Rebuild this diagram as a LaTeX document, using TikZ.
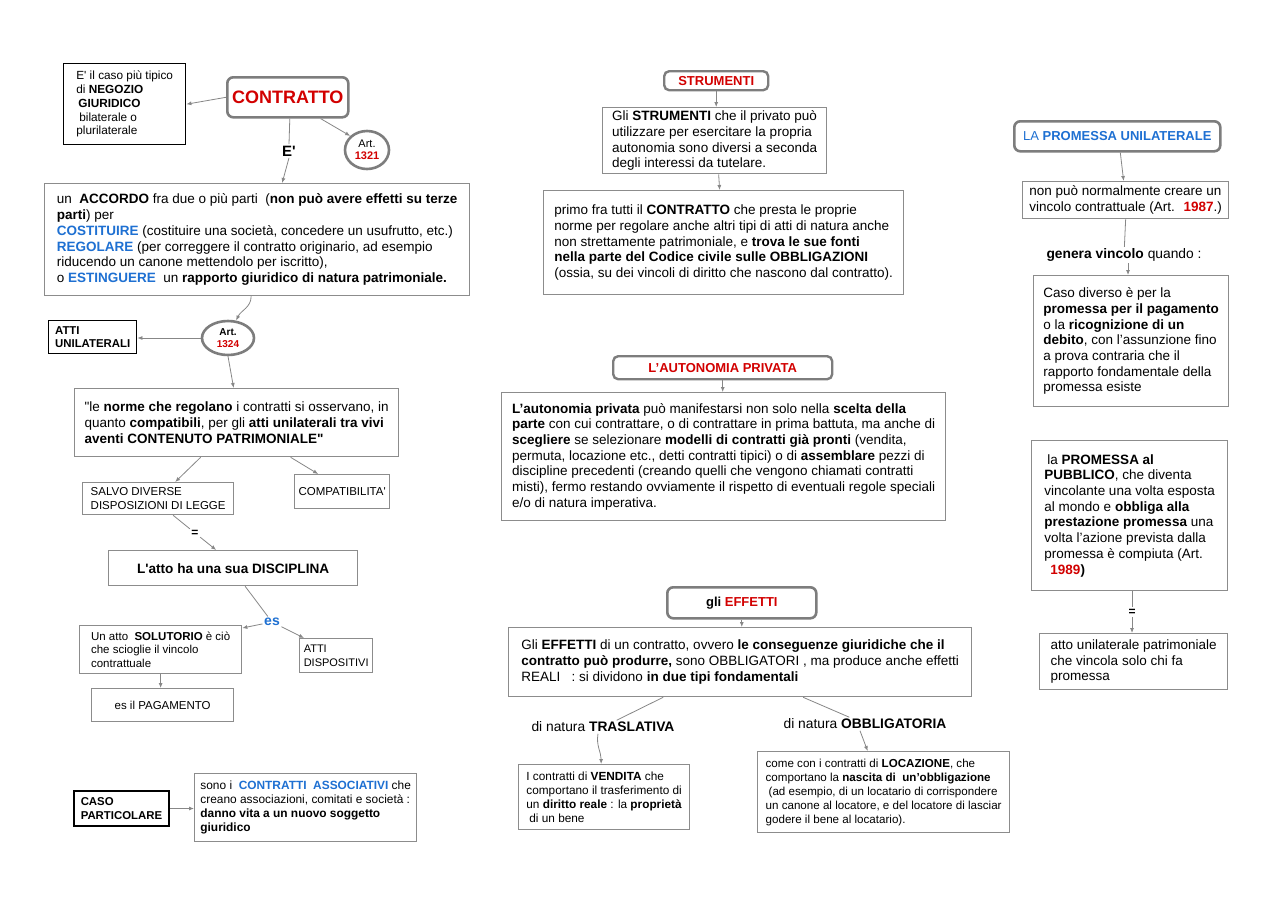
\documentclass[tikz,border=0pt]{standalone}
\usepackage{fontspec}
\setmainfont{Liberation Sans}
\usepackage{tikz}
\definecolor{mapred}{RGB}{210,0,0}
\definecolor{mapblue}{RGB}{30,112,210}
\definecolor{mapgray}{RGB}{125,125,125}
\definecolor{cardgray}{RGB}{140,140,140}
\definecolor{linkgray}{RGB}{135,135,135}
\usetikzlibrary{positioning}
\usetikzlibrary{shapes.geometric}
\usetikzlibrary{arrows.meta}
\usetikzlibrary{calc}
\tikzset{concept/.style={rectangle,draw=mapgray,line width=2.6pt,rounded corners=6pt,anchor=north west,inner sep=0pt,align=center}}
\tikzset{card/.style={rectangle,draw=cardgray,line width=1.3pt,anchor=north west,inner sep=0pt,align=left,font=\fontsize{13.5}{15.7}\selectfont}}
\tikzset{smallcard/.style={card,font=\fontsize{11.5}{13.8}\selectfont}}
\tikzset{blackcard/.style={smallcard,draw=black,line width=1.4pt}}
\tikzset{artnode/.style={ellipse,draw=mapgray,line width=2.6pt,inner sep=0pt,align=center}}
\tikzset{tag/.style={inner sep=1.5pt,font=\fontsize{13.8}{15.7}\selectfont}}
\tikzset{linkline/.style={draw=linkgray,line width=0.8pt}}
\tikzset{link/.style={linkline,-{Latex[length=5pt,width=4pt]}}}

\begin{document}
\begin{tikzpicture}[x=1pt,y=-1pt]
  \fill[white] (0,0) rectangle (1280,905);
  \useasboundingbox (0,0) rectangle (1280,905);

  % Contratto
  \node[concept,minimum width=121pt,minimum height=40pt,font=\fontsize{18}{20}\selectfont\bfseries,text=mapred] (contratto) at (226,76) {CONTRATTO};
  \node[blackcard,minimum width=122pt,minimum height=81pt,font=\fontsize{11.8}{13.8}\selectfont] (negozio) at (63,63) {E\textquotesingle{} il caso più tipico\\di \textbf{NEGOZIO}\\\hspace{2pt}\textbf{GIURIDICO}\\\hspace{3pt}bilaterale o\\plurilaterale};
  \node[artnode,minimum width=44pt,minimum height=38pt,font=\fontsize{11}{12.5}\selectfont] (art1321) at (367,150) {Art.\\\textcolor{mapred}{\textbf{1321}}};
  \node[tag,font=\fontsize{15}{17}\selectfont\bfseries] (e) at (289,151) {E\textquotesingle};
  \node[card,minimum width=425pt,minimum height=112pt] (accordo) at (44,183) {un \ \textbf{ACCORDO} fra due o più parti \ (\textbf{non può avere effetti su terze}\\\textbf{parti}) per\\\textcolor{mapblue}{\textbf{COSTITUIRE}} (costituire una società, concedere un usufrutto, etc.)\\\textcolor{mapblue}{\textbf{REGOLARE}} (per correggere il contratto originario, ad esempio\\riducendo un canone mettendolo per iscritto),\\o \textcolor{mapblue}{\textbf{ESTINGUERE}} \ un \textbf{rapporto giuridico di natura patrimoniale.}};

  % Atti unilaterali
  \node[blackcard,minimum width=88pt,minimum height=33pt,font=\fontsize{11.4}{13}\selectfont\bfseries] (attiun) at (48,320) {ATTI\\UNILATERALI};
  \node[artnode,minimum width=52pt,minimum height=34pt,font=\fontsize{10}{11.5}\selectfont\bfseries] (art1324) at (228,338) {Art.\\\textcolor{mapred}{1324}};
  \node[card,minimum width=324pt,minimum height=68pt] (norme) at (74,388) {\textquotedbl le \textbf{norme che regolano} i contratti si osservano, in\\quanto \textbf{compatibili}, per gli \textbf{atti unilaterali tra vivi}\\\textbf{aventi CONTENUTO PATRIMONIALE\textquotedbl}};
  \node[smallcard,minimum width=151pt,minimum height=32pt] (salvo) at (82,482) {SALVO DIVERSE\\DISPOSIZIONI DI LEGGE};
  \node[smallcard,minimum width=95pt,minimum height=34pt] (compat) at (294,474) {COMPATIBILITA\textquotesingle};
  \node[tag,font=\fontsize{12}{14}\selectfont\bfseries] (eq1) at (195,533) {=};
  \node[card,minimum width=249pt,minimum height=35pt,font=\fontsize{13.6}{16}\selectfont\bfseries] (discip) at (108,550) {L\textquotesingle atto ha una sua DISCIPLINA};
  \node[tag,font=\fontsize{14}{16}\selectfont\bfseries,text=mapblue] (es) at (272,622) {es};
  \node[smallcard,minimum width=162pt,minimum height=48pt] (solut) at (79,625) {Un atto \ \textbf{SOLUTORIO} è ciò\\che scioglie il vincolo\\contrattuale};
  \node[smallcard,minimum width=73pt,minimum height=34pt,font=\fontsize{11}{13.5}\selectfont] (dispos) at (299,638) {ATTI\\DISPOSITIVI};
  \node[smallcard,minimum width=142pt,minimum height=33pt] (pagam) at (91,688) {es il PAGAMENTO};

  % Caso particolare
  \node[blackcard,line width=2pt,minimum width=95pt,minimum height=35pt,font=\fontsize{11.4}{13.5}\selectfont\bfseries] (caso) at (73,790) {CASO\\PARTICOLARE};
  \node[smallcard,minimum width=222pt,minimum height=68pt,font=\fontsize{11.9}{14}\selectfont] (assoc) at (194,773) {sono i \ \textcolor{mapblue}{\textbf{CONTRATTI \ ASSOCIATIVI}} che\\creano associazioni, comitati e società :\\\textbf{danno vita a un nuovo soggetto}\\\textbf{giuridico}};

  % Strumenti
  \node[concept,minimum width=104pt,minimum height=19pt,line width=2.4pt,rounded corners=5pt,font=\fontsize{13}{15}\selectfont\bfseries,text=mapred] (strum) at (663,70) {STRUMENTI};
  \node[card,minimum width=224pt,minimum height=66pt] (glistrum) at (602,107) {Gli \textbf{STRUMENTI} che il privato può\\utilizzare per esercitare la propria\\autonomia sono diversi a seconda\\degli interessi da tutelare.};
  \node[card,minimum width=360pt,minimum height=104pt] (primo) at (543,190) {primo fra tutti il \textbf{CONTRATTO} che presta le proprie\\norme per regolare anche altri tipi di atti di natura anche\\non strettamente patrimoniale, e \textbf{trova le sue fonti}\\\textbf{nella parte del Codice civile sulle OBBLIGAZIONI}\\(ossia, su dei vincoli di diritto che nascono dal contratto).};

  % Autonomia privata
  \node[concept,minimum width=219pt,minimum height=23pt,line width=2.4pt,rounded corners=5pt,font=\fontsize{13}{15}\selectfont\bfseries,text=mapred] (autontitle) at (612,355) {L’AUTONOMIA PRIVATA};
  \node[card,minimum width=444pt,minimum height=128pt] (auton) at (501,392) {\textbf{L’autonomia privata} può manifestarsi non solo nella \textbf{scelta della}\\\textbf{parte} con cui contrattare, o di contrattare in prima battuta, ma anche di\\\textbf{scegliere} se selezionare \textbf{modelli di contratti già pronti} (vendita,\\permuta, locazione etc., detti contratti tipici) o di \textbf{assemblare} pezzi di\\discipline precedenti (creando quelli che vengono chiamati contratti\\misti), fermo restando ovviamente il rispetto di eventuali regole speciali\\e/o di natura imperativa.};

  % Effetti
  \node[concept,minimum width=149pt,minimum height=31pt,font=\fontsize{13}{15}\selectfont\bfseries] (effetti) at (666,586) {gli \textcolor{mapred}{EFFETTI}};
  \node[card,minimum width=463pt,minimum height=69pt] (effbox) at (508,627) {Gli \textbf{EFFETTI} di un contratto, ovvero \textbf{le conseguenze giuridiche che il}\\\textbf{contratto può produrre,} sono OBBLIGATORI , ma produce anche effetti\\REALI \ \ : si dividono \textbf{in due tipi fondamentali}};
  \node[tag] (trasl) at (603,727) {di natura \textbf{TRASLATIVA}};
  \node[tag] (obblig) at (865,724) {di natura \textbf{OBBLIGATORIA}};
  \node[smallcard,minimum width=171pt,minimum height=65pt,font=\fontsize{11.8}{14}\selectfont] (vendita) at (518,764) {I contratti di \textbf{VENDITA} che\\comportano il trasferimento di\\un \textbf{diritto reale} : la \textbf{proprietà}\\\hspace{3pt}di un bene};
  \node[smallcard,minimum width=252pt,minimum height=81pt,font=\fontsize{11.6}{14}\selectfont] (locaz) at (757,751) {come con i contratti di \textbf{LOCAZIONE}, che\\comportano la \textbf{nascita di \ un’obbligazione}\\\hspace{3pt}(ad esempio, di un locatario di corrispondere\\un canone al locatore, e del locatore di lasciar\\godere il bene al locatario).};

  % Promessa unilaterale
  \node[concept,minimum width=206pt,minimum height=30pt,font=\fontsize{13}{15}\selectfont,text=mapblue] (promtitle) at (1013,120) {LA \textbf{PROMESSA UNILATERALE}};
  \node[card,minimum width=206pt,minimum height=37pt] (nonpuo) at (1022,181) {non può normalmente creare un\\vincolo contrattuale (Art. \ \textcolor{mapred}{\textbf{1987}}.)};
  \node[tag] (genera) at (1124,255) {\textbf{genera vincolo} quando :};
  \node[card,minimum width=195pt,minimum height=131pt] (casodiv) at (1033,275) {Caso diverso è per la\\\textbf{promessa per il pagamento}\\o la \textbf{ricognizione di un}\\\textbf{debito}, con l’assunzione fino\\a prova contraria che il\\rapporto fondamentale della\\promessa esiste};
  \node[card,minimum width=196pt,minimum height=150pt] (pubblico) at (1031,440) {\hspace{3pt}la \textbf{PROMESSA al}\\\textbf{PUBBLICO}, che diventa\\vincolante una volta esposta\\al mondo e \textbf{obbliga alla}\\\textbf{prestazione promessa} una\\volta l’azione prevista dalla\\promessa è compiuta (Art.\\\hspace{6pt}\textcolor{mapred}{\textbf{1989}}\textbf{)}};
  \node[tag,font=\fontsize{12}{14}\selectfont\bfseries] (eq2) at (1132,612) {=};
  \node[card,minimum width=188pt,minimum height=56pt] (atto) at (1039,633) {atto unilaterale patrimoniale\\che vincola solo chi fa\\promessa};

  % Links
  \draw[link] (contratto.west) -- (negozio.east);
  \draw[linkline] ([xshift=2pt]contratto.south) -- (e.north);
  \draw[link] (e.south) -- ([xshift=25pt]accordo.north);
  \draw[link] ([xshift=-29pt]contratto.south east) -- (art1321.140);
  \draw[link] ([xshift=-6pt]accordo.south) to[out=-90,in=65] (art1324.65);
  \draw[link] (art1324.west) -- (art1324.west -| attiun.east);
  \draw[link] (art1324.south) -- ([xshift=-3pt]norme.north);
  \draw[link] ([xshift=-36pt]norme.south) -- ([xshift=17pt]salvo.north);
  \draw[link] ([xshift=54pt]norme.south) -- ([xshift=-24pt]compat.north);
  \draw[linkline] ([xshift=15pt]salvo.south) -- (eq1);
  \draw[link] (eq1) -- ([xshift=-17pt]discip.north);
  \draw[linkline] ([xshift=12pt]discip.south) -- (es);
  \draw[link] (es) -- ([yshift=-3pt]solut.north east);
  \draw[link] (es) -- ([xshift=5pt]dispos.north west);
  \draw[link] (solut.south) -- (solut.south |- pagam.north);
  \draw[link] (caso.east) -- (caso.east -| assoc.west);
  \draw[link] (strum.south) -- (strum.south |- glistrum.north);
  \draw[link] ([xshift=4pt]glistrum.south) -- ([xshift=-4pt]primo.north);
  \draw[link] (autontitle.south) -- (autontitle.south |- auton.north);
  \draw[link] (effetti.south) -- (effetti.south |- effbox.north);
  \draw[linkline] ([xshift=-77pt]effbox.south) -- (trasl);
  \draw[link] ([xshift=-5pt]trasl.south) to[out=-100,in=90] ([xshift=-3pt]vendita.north);
  \draw[linkline] ([xshift=63pt]effbox.south) -- (obblig);
  \draw[link] ([xshift=-5pt]obblig.south) -- ([xshift=-16pt]locaz.north);
  \draw[link] ([xshift=3pt]promtitle.south) -- ([xshift=-2pt]nonpuo.north);
  \draw[linkline] (nonpuo.south) -- (genera);
  \draw[link] ([xshift=4pt]genera.south) -- ([xshift=4pt]genera.south |- casodiv.north);
  \draw[linkline] (pubblico.south -| eq2) -- (eq2);
  \draw[link] (eq2) -- (eq2 |- atto.north);
\end{tikzpicture}
\end{document}
